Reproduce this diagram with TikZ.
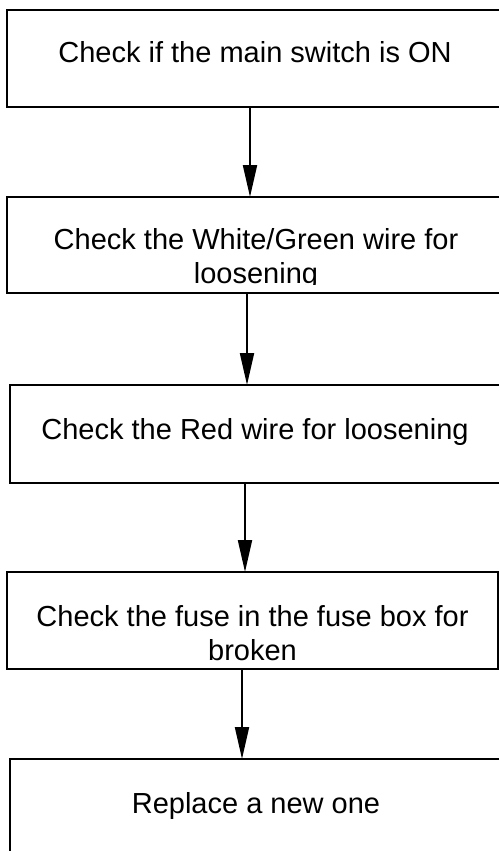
\documentclass[tikz,border=0pt]{standalone}
\usepackage{fontspec}
\setmainfont{Liberation Sans}
\usetikzlibrary{arrows.meta}
\begin{document}
\begin{tikzpicture}[x=1pt,y=-1pt,
  boxstyle/.style={inner sep=0pt, outer sep=0pt, anchor=north west, rectangle},
  boxline/.style={line width=2pt, line join=miter},
  txt/.style={font=\fontsize{29}{34}\selectfont, inner sep=0pt, align=center, anchor=base},
  arr/.style={line width=2pt, -{Triangle[length=32pt,width=14pt]}}]
\useasboundingbox (0,0) rectangle (499,851);
\clip (0,0) rectangle (499,851);
% boxes (right side cut by the picture edge, except the fourth)
\node[boxstyle, minimum width=492pt, minimum height=97pt] (b1) at (7,10) {};
\node[boxstyle, minimum width=492pt, minimum height=96pt] (b2) at (7,197) {};
\node[boxstyle, minimum width=489.5pt, minimum height=98pt] (b3) at (9.5,385) {};
\node[boxstyle, draw, line width=2pt, minimum width=491pt, minimum height=97pt] (b4) at (7,572) {};
\node[boxstyle, minimum width=489pt, minimum height=100pt] (b5) at (10,759) {};
\draw[boxline] (b1.north east) -- (b1.north west) -- (b1.south west) -- (b1.south east);
\draw[boxline] (b2.north east) -- (b2.north west) -- (b2.south west) -- (b2.south east);
\draw[boxline] (b3.north east) -- (b3.north west) -- (b3.south west) -- (b3.south east);
\draw[boxline] (b5.north east) -- (b5.north west) -- (b5.south west) -- (b5.south east);
% texts
\node[txt] (t1) at (255,63) {Check if the main switch is ON};
\begin{scope}
\clip (0,198) rectangle (499,284.5);
\node[txt] (t2) at (256,283) {Check the White/Green wire for\\loosening};
\end{scope}
\node[txt] (t3) at (255,439) {Check the Red wire for loosening};
\node[txt] (t4) at (252.5,660) {Check the fuse in the fuse box for\\broken};
\node[txt] (t5) at (256,813) {Replace a new one};
% arrows
\draw[arr] ([xshift=243pt]b1.south west) -- ([xshift=243pt]b1.south west |- b2.north);
\draw[arr] ([xshift=240pt]b2.south west) -- ([xshift=240pt]b2.south west |- b3.north);
\draw[arr] ([xshift=235.5pt]b3.south west) -- ([xshift=235.5pt]b3.south west |- b4.north);
\draw[arr] ([xshift=235pt]b4.south west) -- ([xshift=235pt]b4.south west |- b5.north);
\end{tikzpicture}
\end{document}
